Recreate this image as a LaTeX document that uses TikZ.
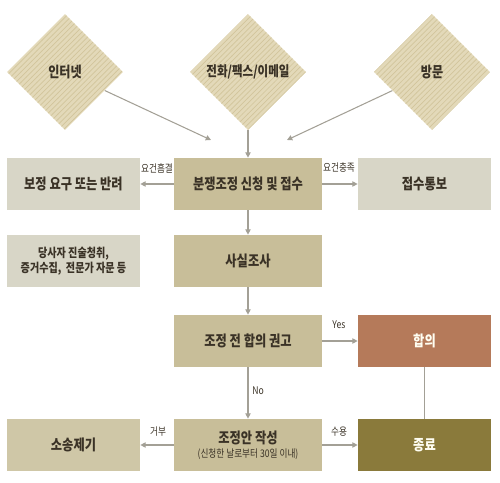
\documentclass[tikz,border=0pt]{standalone}
\usepackage{fontspec}
\setmainfont{Noto Sans CJK KR}[FakeStretch=0.82]
\usetikzlibrary{shapes.geometric,patterns,arrows.meta}
\definecolor{diafill}{HTML}{E3D9B9}
\definecolor{diastripe}{HTML}{D2C59C}
\definecolor{mainfill}{HTML}{C8BE99}
\definecolor{sidefill}{HTML}{D8D6C7}
\definecolor{suitfill}{HTML}{CFC7A7}
\definecolor{agreefill}{HTML}{B57A5A}
\definecolor{endfill}{HTML}{8A7A3B}
\definecolor{txt}{HTML}{3A3226}
\definecolor{lin}{HTML}{A3A096}
\begin{document}
\begin{tikzpicture}
            [x=0.02cm,y=-0.02cm,
             dia/.style={diamond,aspect=1,minimum width=2.32cm,minimum height=2.32cm,inner sep=0pt,
               preaction={fill=diafill},pattern=north east lines,pattern color=diastripe,
               text=txt,font=\fontsize{8.4}{9}\selectfont\bfseries},
             box/.style={rectangle,minimum width=2.66cm,minimum height=1.04cm,inner sep=0pt,
               text=txt,align=center,font=\fontsize{8.5}{9}\selectfont\bfseries},
             mbox/.style={box,fill=mainfill,minimum width=2.96cm,font=\fontsize{8.5}{9}\selectfont\bfseries},
             lbl/.style={text=txt,font=\fontsize{6}{7}\selectfont,inner sep=0pt},
             arr/.style={draw=lin,line width=0.6pt,-{Triangle[length=3pt,width=3pt]}}]
            \useasboundingbox (0,0) rectangle (500,483);
            % channels
            \node[dia] (net) at (65,72) {인터넷};
            \node[dia,font=\fontsize{8}{9}\selectfont\bfseries] (tel) at (248,72) {전화/팩스/이메일};
            \node[dia] (visit) at (432,72) {방문};
            \coordinate (inL) at (211,140);
            \coordinate (inR) at (287,140);
            % boxes
            \node[box,fill=sidefill] (fix) at (73.5,184) {보정 요구 또는 반려};
            \node[mbox] (apply) at (248,184) {분쟁조정 신청 및 접수};
            \node[box,fill=sidefill] (notice) at (424.5,184) {접수통보};
            \node[box,fill=sidefill,font=\fontsize{7}{8.6}\selectfont\bfseries] (note) at (73.5,261) {당사자 진술청취,\\증거수집,\ \ 전문가 자문 등};
            \node[mbox] (fact) at (248,261) {사실조사};
            \node[mbox] (advise) at (248,341) {조정 전 합의 권고};
            \node[box,fill=agreefill,text=white!95!yellow] (agree) at (424.5,341) {합의};
            \node[box,fill=suitfill] (suit) at (73.5,445) {소송제기};
            \node[mbox] (draft) at (248,445) {조정안 작성\\[-1pt]{\fontsize{6}{7}\selectfont\mdseries (신청한 날로부터 30일 이내)}};
            \node[box,fill=endfill,text=white!95!yellow] (done) at (424.5,445) {종료};
            
            \draw[arr] (net) -- (inL);
            \draw[arr] (visit) -- (inR);
            \draw[arr] (tel) -- (apply);
            \draw[arr] (apply) -- (fix);
            \draw[arr] (apply) -- (notice);
            \draw[arr] (apply) -- (fact);
            \draw[arr] (fact) -- (advise);
            \draw[arr] (advise) -- (agree);
            \draw[arr] (advise) -- (draft);
            \draw[arr] (draft) -- (suit);
            \draw[arr] (draft) -- (done);
            \draw[draw=lin,line width=0.6pt] (agree) -- (done);
            % labels
            \node[lbl] (l1) at (157,168) {요건흠결};
            \node[lbl] (l2) at (339,168) {요건충족};
            \node[lbl] (l3) at (339,325) {Yes};
            \node[lbl] (l4) at (258,391) {No};
            \node[lbl] (l5) at (158,432) {거부};
            \node[lbl] (l6) at (339,432) {수용};
          \end{tikzpicture}
\end{document}
